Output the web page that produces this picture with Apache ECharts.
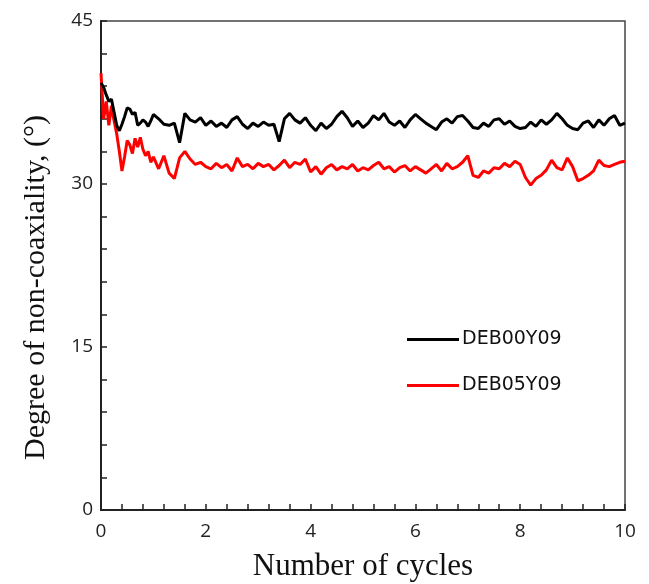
<!DOCTYPE html>
<html>
<head>
<meta charset="utf-8">
<script src="https://cdn.jsdelivr.net/npm/echarts@6/dist/echarts.min.js"></script>
<style>html,body{margin:0;padding:0;background:#fff}#c{width:649px;height:584px}</style>
</head>
<body>
<div id="c"></div>
<script>
var seriesNames = ['DEB00Y09', 'DEB05Y09'];
var cycles = [0,0.05,0.1,0.15,0.2,0.25,0.3,0.35,0.4,0.45,0.5,0.55,0.6,0.65,0.7,0.75,0.8,0.85,0.9,0.95,1.0,
  1.1,1.2,1.3,1.4,1.5,1.6,1.7,1.8,1.9,2.0,2.1,2.2,2.3,2.4,2.5,2.6,2.7,2.8,2.9,3.0,
  3.1,3.2,3.3,3.4,3.5,3.6,3.7,3.8,3.9,4.0,4.1,4.2,4.3,4.4,4.5,4.6,4.7,4.8,4.9,5.0,
  5.1,5.2,5.3,5.4,5.5,5.6,5.7,5.8,5.9,6.0,6.1,6.2,6.3,6.4,6.5,6.6,6.7,6.8,6.9,7.0,
  7.1,7.2,7.3,7.4,7.5,7.6,7.7,7.8,7.9,8.0,8.1,8.2,8.3,8.4,8.5,8.6,8.7,8.8,8.9,9.0,
  9.1,9.2,9.3,9.4,9.5,9.6,9.7,9.8,9.9,10.0];
var deb00y09 = [39.3,38.9,38.2,37.6,37.8,36.6,35.4,34.9,35.5,36.2,37.0,36.9,36.4,36.6,35.4,35.6,35.9,35.7,35.3,35.8,36.4,
  36.0,35.5,35.4,35.6,33.8,36.5,35.9,35.7,36.1,35.4,35.8,35.3,35.6,35.2,35.9,36.2,35.5,35.1,35.6,35.3,
  35.7,35.4,35.5,33.9,36.0,36.5,35.9,35.6,36.1,35.4,34.9,35.6,35.1,35.5,36.2,36.7,36.1,35.3,35.8,35.2,
  35.6,36.3,35.9,36.5,35.7,35.4,35.8,35.2,35.9,36.4,36.0,35.6,35.3,35.0,35.7,36.0,35.6,36.2,36.3,35.8,
  35.2,35.1,35.6,35.3,35.9,36.0,35.5,35.8,35.3,35.1,35.2,35.7,35.3,35.9,35.5,35.9,36.5,36.0,35.4,35.1,
  35.0,35.6,35.8,35.2,35.9,35.4,36.0,36.3,35.4,35.6];
var deb05y09 = [40.2,36.0,37.6,35.4,37.2,35.8,34.6,33.0,31.2,32.5,34.0,33.6,32.8,34.2,33.4,34.3,33.2,32.6,33.0,32.0,32.5,
  31.4,32.6,31.0,30.5,32.4,33.0,32.3,31.8,32.0,31.6,31.4,31.9,31.5,31.8,31.2,32.4,31.6,31.8,31.4,31.9,
  31.6,31.8,31.3,31.7,32.2,31.5,32.0,31.8,32.3,31.1,31.6,30.9,31.5,31.8,31.3,31.6,31.4,31.8,31.2,31.5,
  31.3,31.7,32.0,31.4,31.6,31.1,31.5,31.7,31.2,31.6,31.3,31.0,31.4,31.8,31.2,31.9,31.4,31.6,32.0,32.6,
  30.8,30.6,31.2,31.0,31.5,31.4,31.9,31.6,32.1,31.8,30.6,29.9,30.5,30.8,31.3,32.2,31.5,31.3,32.4,31.6,
  30.3,30.5,30.8,31.2,32.2,31.7,31.6,31.8,32.0,32.1];
var xTickLabels = ['0','2','4','6','8','10'];
var yTickLabels = ['0','15','30','45'];

function pairs(xs, ys){ return xs.map(function(x,i){ return [x, ys[i]]; }); }
function labelOnly(list){
  return function(v){
    var r = Math.round(v * 1000) / 1000;
    var s = String(r);
    return list.indexOf(s) >= 0 ? s : '';
  };
}

var chart = echarts.init(document.getElementById('c'), null, {renderer:'canvas'});
var labelFont = {fontFamily:'Open Sans', fontSize:19, color:'#222'};
chart.setOption({
  animation:false,
  backgroundColor:'#fff',
  grid:{left:101, right:24, top:21, bottom:74, outerBoundsMode:'none', containLabel:false,
        show:true, borderColor:'#444', borderWidth:1.5, backgroundColor:'transparent'},
  legend:{
    orient:'vertical', left:402, top:325, itemGap:27, itemWidth:52, itemHeight:3, icon:'rect',
    textStyle:{fontFamily:'DejaVu Sans', fontSize:19, color:'#111', padding:[0,0,0,-2]},
    data:seriesNames
  },
  xAxis:{
    type:'value', min:0, max:10, interval:0.4,
    name:'Number of cycles', nameLocation:'middle', nameGap:41,
    nameTextStyle:{fontFamily:'Liberation Serif', fontSize:31, color:'#111'},
    axisLine:{show:true, lineStyle:{color:'#222', width:2}},
    axisTick:{show:true, inside:true, length:6, lineStyle:{color:'#222', width:1.5}},
    axisLabel:Object.assign({margin:12, interval:0, formatter:labelOnly(xTickLabels)}, labelFont),
    splitLine:{show:false}
  },
  yAxis:{
    type:'value', min:0, max:45, interval:3,
    name:'Degree of non-coaxiality, (°)', nameLocation:'middle', nameGap:50,
    nameTextStyle:{fontFamily:'Liberation Serif', fontSize:30, color:'#111', padding:[0,44,0,0]},
    axisLine:{show:true, lineStyle:{color:'#222', width:2}},
    axisTick:{show:true, inside:true, length:6, lineStyle:{color:'#222', width:1.5}},
    axisLabel:Object.assign({margin:8, interval:0, formatter:labelOnly(yTickLabels)}, labelFont),
    splitLine:{show:false}
  },
  series:[
    {name:seriesNames[0], type:'line', data:pairs(cycles, deb00y09), symbol:'none', color:'#000',
     lineStyle:{color:'#000', width:3}, z:3},
    {name:seriesNames[1], type:'line', data:pairs(cycles, deb05y09), symbol:'none', color:'#f00',
     lineStyle:{color:'#f00', width:3}, z:2}
  ]
});
</script>
</body>
</html>
